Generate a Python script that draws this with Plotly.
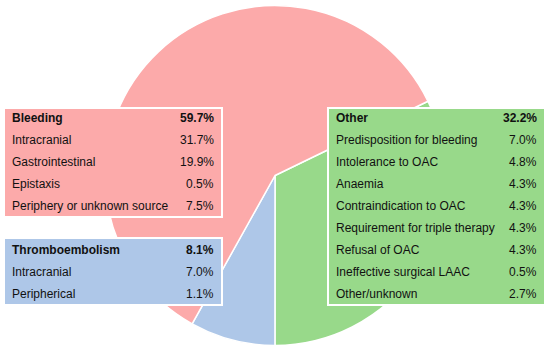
import plotly.graph_objects as go

# ---- data ----
categories = ["Other", "Thromboembolism", "Bleeding"]
values = [32.2, 8.1, 59.7]

bleeding_labels = ["Intracranial", "Gastrointestinal", "Epistaxis", "Periphery or unknown source"]
bleeding_values = [31.7, 19.9, 0.5, 7.5]

thrombo_labels = ["Intracranial", "Peripherical"]
thrombo_values = [7.0, 1.1]

other_labels = ["Predisposition for bleeding", "Intolerance to OAC", "Anaemia",
                "Contraindication to OAC", "Requirement for triple therapy",
                "Refusal of OAC", "Ineffective surgical LAAC", "Other/unknown"]
other_values = [7.0, 4.8, 4.3, 4.3, 4.3, 4.3, 0.5, 2.7]

# ---- styles ----
W, H = 550, 350
COL = {"Bleeding": "#FCAAAA", "Thromboembolism": "#AEC7E8", "Other": "#98D98A"}
FONT = "Liberation Sans, Arial, sans-serif"


def px(x):
    return x / W


def py(y):
    return 1 - y / H


fig = go.Figure()

cx, cy, r = 275, 175.5, 170
fig.add_trace(go.Pie(
    labels=categories, values=values, sort=False, direction="clockwise",
    rotation=64.1, textinfo="none", hoverinfo="skip", showlegend=False,
    marker=dict(colors=[COL[c] for c in categories], line=dict(color="white", width=1.5)),
    domain=dict(x=[px(cx - r), px(cx + r)], y=[py(cy + r), py(cy - r)]),
))

shapes = []
annotations = []


def add_box(x0, x1, y0, y1, color, header, total, labels, vals, row0, step):
    shapes.append(dict(type="rect", xref="paper", yref="paper",
                       x0=px(x0 - 1), x1=px(x1 + 1), y0=py(y0 - 1), y1=py(y1 + 1),
                       fillcolor=color, line=dict(color="white", width=2), layer="above"))
    rows = [(header, total, True)] + [(l, v, False) for l, v in zip(labels, vals)]
    for i, (lab, v, bold) in enumerate(rows):
        yy = row0 + i * step
        t1 = f"<b>{lab}</b>" if bold else lab
        t2 = f"<b>{v:.1f}%</b>" if bold else f"{v:.1f}%"
        annotations.append(dict(x=px(x0 + 5), y=py(yy), xref="paper", yref="paper",
                                text=t1, showarrow=False, xanchor="left", yanchor="middle",
                                font=dict(family=FONT, size=12, color="#111")))
        annotations.append(dict(x=px(x1 - 5), y=py(yy), xref="paper", yref="paper",
                                text=t2, showarrow=False, xanchor="right", yanchor="middle",
                                font=dict(family=FONT, size=12, color="#111")))


add_box(5, 221, 109, 216, COL["Bleeding"], "Bleeding", values[2],
        bleeding_labels, bleeding_values, 118.5, 21.9)
add_box(5, 221, 239, 304, COL["Thromboembolism"], "Thromboembolism", values[1],
        thrombo_labels, thrombo_values, 250, 21.9)
add_box(329, 544, 109, 304, COL["Other"], "Other", values[0],
        other_labels, other_values, 118.5, 21.9)

fig.update_layout(
    width=W, height=H, margin=dict(l=0, r=0, t=0, b=0),
    paper_bgcolor="white", plot_bgcolor="white",
    shapes=shapes, annotations=annotations,
)

fig.write_html("out.html", config={"displayModeBar": False},
               post_script="document.body.style.margin='0';document.body.style.overflow='hidden';")
